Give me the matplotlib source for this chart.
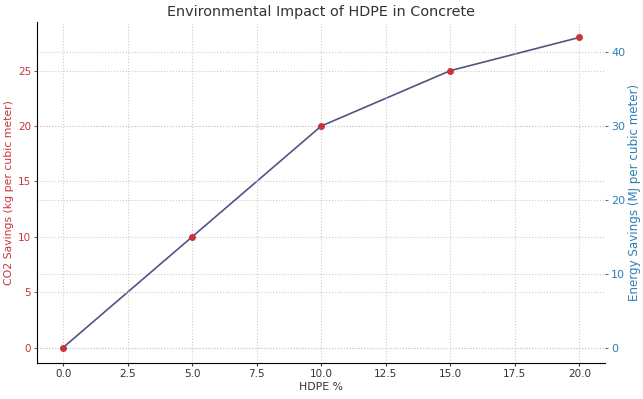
import matplotlib
matplotlib.use("Agg")
import matplotlib.pyplot as plt

hdpe_pct = [0, 5, 10, 15, 20]
co2_savings = [0, 10, 20, 25, 28]
energy_savings = [0, 15, 30, 37.5, 42]

red = "#c8343c"
blue = "#2f7fb5"
line_col = "#4f5584"

plt.rcParams["font.size"] = 7.5

fig, ax1 = plt.subplots(figsize=(6.43, 3.99), dpi=100)
fig.subplots_adjust(left=0.058, right=0.941, top=0.945, bottom=0.09)

ax2 = ax1.twinx()
ax1.set_zorder(ax2.get_zorder() + 1)
ax1.patch.set_visible(False)

# CO2 points on the left axis, energy line on the right axis
ax1.plot(hdpe_pct, co2_savings, "o", color=red, ms=4)
ax1.set_xlabel("HDPE %", color="#333333", labelpad=2, fontsize=7.8)
ax1.set_ylabel("CO2 Savings (kg per cubic meter)", color=red, labelpad=3, fontsize=7.8)
ax1.tick_params(axis="y", colors=red, length=2, pad=2.5, labelsize=7.5)
ax1.tick_params(axis="x", colors="#333333", length=2, pad=2.5, labelsize=7.5)
ax1.grid(True, ls=":", color="#cccccc", lw=0.8)
ax1.spines["top"].set_visible(False)
ax1.spines["right"].set_visible(False)

ax2.plot(hdpe_pct, energy_savings, color=line_col, lw=1.2)
ax2.set_ylabel("Energy Savings (MJ per cubic meter)", color=blue, labelpad=2, fontsize=8.6)
ax2.tick_params(axis="y", colors=blue, length=2, pad=2.5, labelsize=8)
ax2.grid(True, ls=":", color="#cccccc", lw=0.8)
for s in ["top", "right", "left", "bottom"]:
    ax2.spines[s].set_visible(False)

ax1.set_title("Environmental Impact of HDPE in Concrete", color="#333333", fontsize=10.4, pad=4)

fig.savefig("out.png")
